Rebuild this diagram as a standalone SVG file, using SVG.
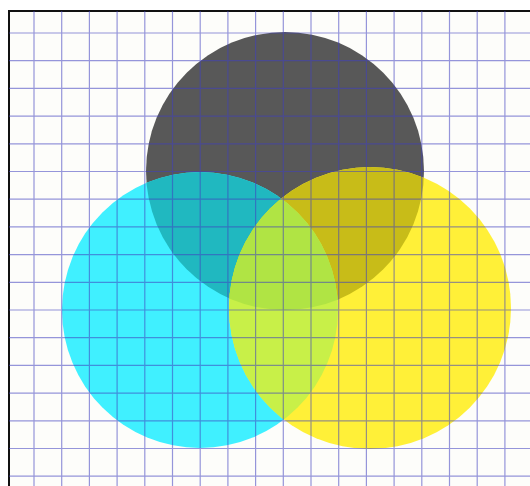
<svg xmlns="http://www.w3.org/2000/svg" width="530" height="486" viewBox="0 0 530 486">
  <style>
    .grid { fill: none; stroke: #4040c0; stroke-width: 1.2; stroke-opacity: 0.55; }
    .frame { fill: #fdfdfa; stroke: #111; stroke-width: 2; }
  </style>
  <defs>
    <clipPath id="clipGray"><circle cx="285" cy="171" r="139"/></clipPath>
    <clipPath id="clipCyan"><circle cx="200" cy="310" r="138"/></clipPath>
  </defs>
  <rect width="530" height="486" fill="#ffffff"/>
  <rect class="frame" x="9" y="11" width="540" height="500"/>
  <g id="circles">
    <circle id="gray" cx="285" cy="171" r="139" fill="#585858"/>
    <circle id="cyan" cx="200" cy="310" r="138" fill="#40f0ff"/>
    <circle id="yellow" cx="370" cy="308" r="141" fill="#fff038"/>
    <circle cx="200" cy="310" r="138" fill="#20b8c0" clip-path="url(#clipGray)"/>
    <circle cx="370" cy="308" r="141" fill="#c8bc18" clip-path="url(#clipGray)"/>
    <circle cx="370" cy="308" r="141" fill="#c8f048" clip-path="url(#clipCyan)"/>
    <g clip-path="url(#clipGray)">
      <circle cx="370" cy="308" r="141" fill="#b0e444" clip-path="url(#clipCyan)"/>
    </g>
  </g>
  <path class="grid" d="M34 11V486 M61.7 11V486 M89.4 11V486 M117.1 11V486 M144.8 11V486 M172.5 11V486 M200.2 11V486 M227.9 11V486 M255.6 11V486 M283.3 11V486 M311 11V486 M338.7 11V486 M366.4 11V486 M394.1 11V486 M421.8 11V486 M449.5 11V486 M477.2 11V486 M504.9 11V486
  M9 33H530 M9 60.7H530 M9 88.4H530 M9 116.1H530 M9 143.8H530 M9 171.5H530 M9 199.2H530 M9 226.9H530 M9 254.6H530 M9 282.3H530 M9 310H530 M9 337.7H530 M9 365.4H530 M9 393.1H530 M9 420.8H530 M9 448.5H530 M9 476.2H530"/>
</svg>
